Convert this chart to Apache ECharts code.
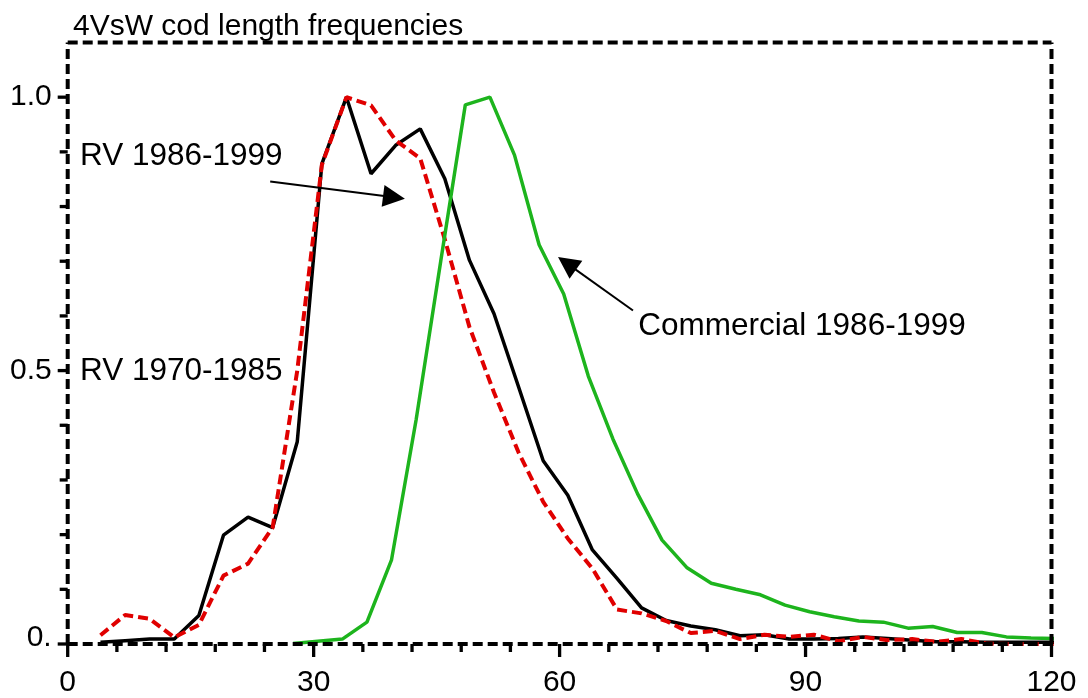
<!DOCTYPE html>
<html><head><meta charset="utf-8">
<script src="https://cdn.jsdelivr.net/npm/echarts@6/dist/echarts.min.js"></script>
<style>html,body{margin:0;padding:0;background:#fff}#c{width:1088px;height:698px}</style>
</head><body><div id="c"></div>
<script>
// ---- data ----
const titleText = '4VsW cod length frequencies';
const rvLengths = [4,7,10,13,16,19,22,25,28,31,34,37,40,43,46,49,52,55,58,61,64,67,70,73,76,79,82,85,88,91,94,97,100,103,106,109,112,115,118,121];
const rv8699 = [0.003,0.006,0.009,0.009,0.052,0.199,0.232,0.213,0.370,0.878,1.0,0.860,0.912,0.942,0.851,0.702,0.604,0.47,0.335,0.272,0.172,0.12,0.066,0.043,0.033,0.026,0.015,0.017,0.009,0.009,0.010,0.013,0.010,0.007,0.004,0.004,0.003,0.003,0.003,0.003];
const rv7085 = [0.016,0.053,0.046,0.012,0.035,0.125,0.147,0.213,0.50,0.876,1.0,0.985,0.921,0.888,0.74,0.58,0.46,0.35,0.26,0.193,0.138,0.063,0.056,0.042,0.020,0.024,0.009,0.017,0.013,0.017,0.005,0.013,0.007,0.009,0.004,0.009,0.001,0.0,0.0,0.0];
const comLengths = [27.5,30.5,33.5,36.5,39.5,42.5,45.5,48.5,51.5,54.5,57.5,60.5,63.5,66.5,69.5,72.5,75.5,78.5,81.5,84.5,87.5,90.5,93.5,96.5,99.5,102.5,105.5,108.5,111.5,114.5,117.5,120.5];
const com8699 = [0.001,0.005,0.009,0.040,0.154,0.41,0.70,0.986,1.0,0.894,0.73,0.64,0.49,0.375,0.275,0.19,0.14,0.111,0.10,0.090,0.071,0.059,0.050,0.042,0.040,0.029,0.032,0.021,0.021,0.013,0.011,0.010];
const xTicks = [0,30,60,90,120];
const xMinorTicks = [6,12,18,24,36,42,48,54,66,72,78,84,96,102,108,114];
const yTicks = [0,0.5,1.0];
const yMinorTicks = [0.1,0.2,0.3,0.4,0.6,0.7,0.8,0.9];
const yTickLabels = {0:'0.', 0.5:'0.5', 1:'1.0'};
const xRange = [0,120], yRange = [0,1.1];
// annotations (data units)
const notes = [
  {name:'RV 1986-1999', at:[1.5,0.891]},
  {name:'RV 1970-1985', at:[1.5,0.499]},
  {name:'Commercial 1986-1999', at:[69.6,0.581]}
];
const arrows = [
  {from:[24.7,0.846], to:[39.8,0.817]},
  {from:[68.95,0.610], to:[60.9,0.696]}
];

const FONT = "'Liberation Sans', Arial, sans-serif";
const pairs = (xs, ys) => xs.map((x,i)=>[x, ys[i]]);

const chart = echarts.init(document.getElementById('c'), null, {renderer:'canvas'});
chart.setOption({
  animation:false,
  backgroundColor:'#fff',
  title:{text:titleText, left:68, top:7, textStyle:{fontFamily:FONT, fontSize:30, fontWeight:'normal', color:'#000'}},
  grid:{left:67.7, right:36.5, top:42.5, bottom:52.3, containLabel:false},
  xAxis:{
    type:'value', min:xRange[0], max:xRange[1], interval:30,
    axisLine:{show:false}, axisTick:{show:false},
    axisLabel:{show:true, margin:24, fontFamily:FONT, fontSize:30, color:'#000',
      formatter:v=> xTicks.includes(v) ? String(v) : ''},
    splitLine:{show:false}
  },
  yAxis:{
    type:'value', min:yRange[0], max:yRange[1], interval:0.5,
    axisLine:{show:false}, axisTick:{show:false}, 
    axisLabel:{show:true, margin:16, fontFamily:FONT, fontSize:30, color:'#000', showMaxLabel:false,
      formatter:v=> v===0 ? '{z|0.}' : (yTickLabels[v] !== undefined ? yTickLabels[v] : ''),
      rich:{z:{fontFamily:FONT, fontSize:30, color:'#000', padding:[0,0,12,0]}}},
    splitLine:{show:false}
  },
  series:[
    {name:'RV 1986-1999', type:'line', data:pairs(rvLengths, rv8699), symbol:'none', z:2,
      lineStyle:{color:'#000', width:3.5}},
    {name:'RV 1970-1985', type:'line', data:pairs(rvLengths, rv7085), symbol:'none', z:3,
      lineStyle:{color:'#e00000', width:4, type:[10,5]}},
    {name:'Commercial 1986-1999', type:'line', data:pairs(comLengths, com8699), symbol:'none', z:4,
      lineStyle:{color:'#1db41d', width:3.5},
      markLine:{silent:true, animation:false, symbol:['none','triangle'], symbolSize:[22,22],
        label:{show:false}, lineStyle:{color:'#000', width:2, type:'solid'},
        itemStyle:{color:'#000'},
        data: arrows.map(a=>[{coord:a.from}, {coord:a.to}])}}
  ]
});

// frame, ticks and annotation texts, positioned through the axes
const px = v => chart.convertToPixel({xAxisIndex:0, yAxisIndex:0}, v);
const g = [];
const frameStyle = {stroke:'#000', lineWidth:4, lineDash:[10,5], lineCap:'butt'};
const c00 = px([xRange[0], yRange[0]]), c10 = px([xRange[1], yRange[0]]);
const c11 = px([xRange[1], yRange[1]]), c01 = px([xRange[0], yRange[1]]);
[[c00,c10],[c01,c11],[c00,c01],[c10,c11]].forEach(([a,b])=>{
  g.push({type:'line', z:50, shape:{x1:a[0], y1:a[1], x2:b[0], y2:b[1]}, style:frameStyle, silent:true});
});
const tickStyle = {stroke:'#000', lineWidth:3.3, lineCap:'butt'};
xTicks.forEach(v=>{ const p = px([v,0]); g.push({type:'line', z:51, silent:true, shape:{x1:p[0], y1:p[1], x2:p[0], y2:p[1]+13}, style:tickStyle}); });
xMinorTicks.forEach(v=>{ const p = px([v,0]); g.push({type:'line', z:51, silent:true, shape:{x1:p[0], y1:p[1], x2:p[0], y2:p[1]+8}, style:tickStyle}); });
yTicks.forEach(v=>{ const p = px([0,v]); g.push({type:'line', z:51, silent:true, shape:{x1:p[0], y1:p[1], x2:p[0]-10, y2:p[1]}, style:tickStyle}); });
yMinorTicks.forEach(v=>{ const p = px([0,v]); g.push({type:'line', z:51, silent:true, shape:{x1:p[0], y1:p[1], x2:p[0]-8, y2:p[1]}, style:tickStyle}); });
notes.forEach(n=>{
  const p = px(n.at);
  g.push({type:'text', x:p[0], y:p[1], z:100,
    style:{text:n.name, fontFamily:FONT, fontSize:31.5, fill:'#000000', verticalAlign:'middle', align:'left'}});
});
chart.setOption({graphic:g});
</script></body></html>
